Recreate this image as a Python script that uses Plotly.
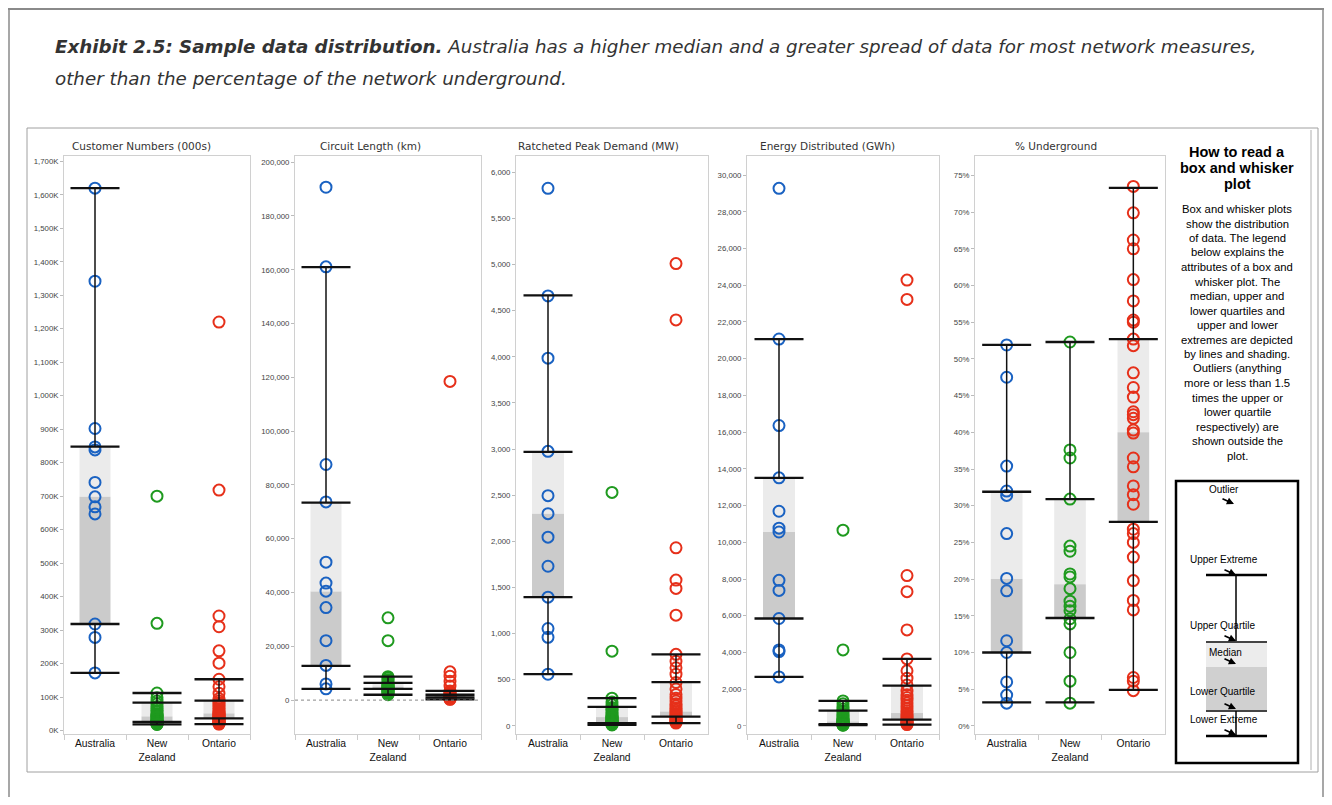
import plotly.graph_objects as go

# Screen size; the html body adds an 8px margin, so the figure is drawn 8px in from each edge
W, H = 1332, 805
OFF = 8
WF, HF = W - 2 * OFF, H - 2 * OFF

# ---------------- data ----------------
categories = ["Australia", "New Zealand", "Ontario"]
category_labels = ["Australia", "New<br>Zealand", "Ontario"]
region_colors = ["#1a62c2", "#1f9a1f", "#e6301a"]

panel_titles = ["Customer Numbers (000s)", "Circuit Length (km)",
                "Ratcheted Peak Demand (MW)", "Energy Distributed (GWh)", "% Underground"]

# Customer numbers (thousands)
cust_australia = [1620, 1342, 902, 847, 838, 741, 698, 668, 647, 318, 278, 172]
cust_new_zealand = [700, 320, 112, 98, 88, 80, 72, 66, 60, 55, 50, 46, 43, 42, 40, 36, 33,
                    31, 29, 27, 26, 25, 24, 22, 21, 20, 19, 18]
cust_ontario = [1220, 718, 342, 310, 238, 201, 153, 131, 111, 95, 88, 82, 76, 70, 65, 60, 56,
                52, 50, 48, 45, 42, 40, 38, 36, 34, 32, 30, 28, 26, 24, 22, 20, 19]
# box stats: [lower extreme, lower quartile, median, upper quartile, upper extreme]
cust_box_australia = [172, 318, 698, 848, 1620]
cust_box_new_zealand = [18, 26, 42, 83, 112]
cust_box_ontario = [19, 36, 51, 89, 153]

# Circuit length (km)
circ_australia = [190700, 161100, 87600, 73700, 51300, 43500, 40500, 34400, 22100, 12900, 6000, 4200]
circ_new_zealand = [30600, 22100, 8700, 8200, 7600, 7000, 6400, 6000, 5600, 5300, 5000, 4800,
                    4500, 4300, 4100, 3800, 3500, 3200, 2900, 2600, 2300, 2000]
circ_ontario = [118500, 10500, 8900, 7000, 5200, 3400, 3000, 2600, 2300, 2000, 1800, 1600, 1400,
                1200, 1000, 900, 800, 700, 600, 500, 400, 300]
circ_box_australia = [4200, 12700, 40400, 73400, 161000]
circ_box_new_zealand = [2000, 4200, 5000, 6400, 8700]
circ_box_ontario = [300, 1000, 1500, 2000, 3400]

# Ratcheted peak demand (MW)
peak_australia = [5826, 4660, 3985, 2975, 2495, 2300, 2045, 1730, 1395, 1055, 960, 560]
peak_new_zealand = [2530, 810, 300, 260, 230, 200, 180, 160, 140, 125, 110, 100, 92, 85, 78,
                    70, 62, 55, 48, 42, 36, 30, 25, 20, 15, 10]
peak_ontario = [5010, 4400, 1930, 1580, 1490, 1200, 775, 700, 630, 560, 470, 400, 340, 300, 270,
                240, 215, 190, 170, 150, 135, 120, 110, 100, 90, 80, 70, 60, 50, 40, 30]
peak_box_australia = [560, 1395, 2300, 2970, 4665]
peak_box_new_zealand = [10, 30, 95, 205, 300]
peak_box_ontario = [30, 100, 155, 475, 775]

# Energy distributed (GWh)
energy_australia = [29280, 21070, 16360, 13510, 11690, 10770, 10560, 7930, 7380, 5850, 4140, 4050, 2670]
energy_new_zealand = [10660, 4140, 1360, 1200, 1050, 920, 800, 690, 600, 520, 450, 390, 340, 300,
                      260, 230, 200, 175, 150, 130, 115, 100, 90, 75, 60, 50, 40]
energy_ontario = [24280, 23230, 8190, 7310, 5230, 3650, 3000, 2600, 2230, 1900, 1700, 1550, 1400,
                  1250, 1100, 950, 820, 700, 600, 520, 450, 390, 330, 280, 230, 180, 140, 100, 70]
energy_box_australia = [2670, 5850, 10560, 13510, 21070]
energy_box_new_zealand = [40, 100, 240, 830, 1360]
energy_box_ontario = [70, 340, 700, 2190, 3650]

# Percentage underground (%)
ug_australia = [51.9, 47.5, 35.4, 32.0, 31.4, 26.2, 20.1, 18.4, 11.6, 10.0, 6.0, 4.2, 3.1]
ug_new_zealand = [52.3, 37.6, 36.5, 30.9, 24.5, 23.8, 20.7, 20.3, 18.7, 17.0, 16.3, 15.7, 14.6,
                  13.9, 10.0, 6.1, 3.1]
ug_ontario = [73.5, 69.9, 66.2, 65.0, 60.8, 57.9, 55.3, 55.0, 52.7, 51.8, 48.1, 46.1, 44.8, 42.8,
              42.4, 41.9, 40.3, 39.9, 36.5, 35.3, 32.7, 31.5, 30.2, 26.8, 26.2, 25.0, 23.0, 19.8,
              17.1, 15.8, 6.6, 6.1, 4.8]
ug_box_australia = [3.2, 10.0, 20.0, 31.9, 51.9]
ug_box_new_zealand = [3.2, 14.7, 19.3, 30.9, 52.3]
ug_box_ontario = [4.9, 27.8, 40.0, 52.7, 73.3]

# tick values and labels
cust_ticks = [0, 100, 200, 300, 400, 500, 600, 700, 800, 900, 1000, 1100, 1200, 1300, 1400, 1500, 1600, 1700]
cust_tick_labels = ["0K", "100K", "200K", "300K", "400K", "500K", "600K", "700K", "800K", "900K",
                    "1,000K", "1,100K", "1,200K", "1,300K", "1,400K", "1,500K", "1,600K", "1,700K"]
circ_ticks = [0, 20000, 40000, 60000, 80000, 100000, 120000, 140000, 160000, 180000, 200000]
circ_tick_labels = ["0", "20,000", "40,000", "60,000", "80,000", "100,000", "120,000", "140,000",
                    "160,000", "180,000", "200,000"]
peak_ticks = [0, 500, 1000, 1500, 2000, 2500, 3000, 3500, 4000, 4500, 5000, 5500, 6000]
peak_tick_labels = ["0", "500", "1,000", "1,500", "2,000", "2,500", "3,000", "3,500", "4,000",
                    "4,500", "5,000", "5,500", "6,000"]
energy_ticks = [0, 2000, 4000, 6000, 8000, 10000, 12000, 14000, 16000, 18000, 20000, 22000, 24000,
                26000, 28000, 30000]
energy_tick_labels = ["0", "2,000", "4,000", "6,000", "8,000", "10,000", "12,000", "14,000",
                      "16,000", "18,000", "20,000", "22,000", "24,000", "26,000", "28,000", "30,000"]
ug_ticks = [0, 5, 10, 15, 20, 25, 30, 35, 40, 45, 50, 55, 60, 65, 70, 75]
ug_tick_labels = ["0%", "5%", "10%", "15%", "20%", "25%", "30%", "35%", "40%", "45%", "50%",
                  "55%", "60%", "65%", "70%", "75%"]

legend_body = ["Box and whisker plots", "show the distribution", "of data. The legend",
               "below explains the", "attributes of a box and", "whisker plot. The",
               "median, upper and", "lower quartiles and", "upper and lower",
               "extremes are depicted", "by lines and shading.", "Outliers (anything",
               "more or less than 1.5", "times the upper or", "lower quartile",
               "respectively) are", "shown outside the", "plot."]

panels = [
    dict(points=[cust_australia, cust_new_zealand, cust_ontario],
         boxes=[cust_box_australia, cust_box_new_zealand, cust_box_ontario],
         ticks=cust_ticks, labels=cust_tick_labels, rng=[-10.5, 1716], px=(64, 250), tx=141),
    dict(points=[circ_australia, circ_new_zealand, circ_ontario],
         boxes=[circ_box_australia, circ_box_new_zealand, circ_box_ontario],
         ticks=circ_ticks, labels=circ_tick_labels, rng=[-12600, 202300], px=(295, 481), tx=370),
    dict(points=[peak_australia, peak_new_zealand, peak_ontario],
         boxes=[peak_box_australia, peak_box_new_zealand, peak_box_ontario],
         ticks=peak_ticks, labels=peak_tick_labels, rng=[-88, 6176], px=(516, 708), tx=598),
    dict(points=[energy_australia, energy_new_zealand, energy_ontario],
         boxes=[energy_box_australia, energy_box_new_zealand, energy_box_ontario],
         ticks=energy_ticks, labels=energy_tick_labels, rng=[-441, 31040], px=(747, 939), tx=828),
    dict(points=[ug_australia, ug_new_zealand, ug_ontario],
         boxes=[ug_box_australia, ug_box_new_zealand, ug_box_ontario],
         ticks=ug_ticks, labels=ug_tick_labels, rng=[-1.1, 77.64], px=(975, 1165), tx=1056),
]

PLOT_TOP, PLOT_BOTTOM = 156, 734


def X(p):
    return (p - OFF) / WF


def Y(p):
    return 1 - (p - OFF) / HF


fig = go.Figure()
layout_axes = {}
shapes = []
annotations = []

for i, pan in enumerate(panels, start=1):
    xa = "x" if i == 1 else f"x{i}"
    ya = "y" if i == 1 else f"y{i}"
    for cat, vals, box, col in zip(categories, pan["points"], pan["boxes"], region_colors):
        lw, q1, med, q3, uw = box
        fig.add_trace(go.Scatter(
            x=[cat] * len(vals), y=vals, mode="markers", xaxis=xa, yaxis=ya,
            marker=dict(symbol="circle-open", size=11, color=col, line=dict(width=2, color=col)),
            hoverinfo="y"))
        fig.add_trace(go.Bar(
            x=[cat], y=[med - q1], base=[q1], width=0.5, xaxis=xa, yaxis=ya,
            marker=dict(color="rgba(140,140,140,0.45)", line=dict(width=0)), hoverinfo="skip"))
        fig.add_trace(go.Bar(
            x=[cat], y=[q3 - med], base=[med], width=0.5, xaxis=xa, yaxis=ya,
            marker=dict(color="rgba(210,210,210,0.45)", line=dict(width=0)), hoverinfo="skip"))
        fig.add_trace(go.Scatter(
            x=[cat, cat, None, cat, cat], y=[lw, q1, None, q3, uw], mode="lines",
            xaxis=xa, yaxis=ya, line=dict(color="#111", width=1.5), hoverinfo="skip"))
        fig.add_trace(go.Scatter(
            x=[cat] * 4, y=[lw, q1, q3, uw], mode="markers", xaxis=xa, yaxis=ya,
            marker=dict(symbol="line-ew", size=35, line=dict(width=2.3, color="#111")),
            hoverinfo="skip"))

    x0, x1 = pan["px"]
    layout_axes["xaxis" if i == 1 else f"xaxis{i}"] = dict(
        domain=[X(x0), X(x1)], anchor=ya, type="category",
        categoryorder="array", categoryarray=categories, range=[-0.5, 2.5],
        tickvals=categories, ticktext=category_labels, tickson="boundaries",
        ticks="outside", ticklen=5, tickcolor="#cccccc",
        showline=True, linecolor="#d0d0d0", linewidth=1, mirror=True, showgrid=False,
        tickfont=dict(family="Liberation Sans, Arial", size=10.3, color="#111"),
        fixedrange=True)
    layout_axes["yaxis" if i == 1 else f"yaxis{i}"] = dict(
        domain=[Y(PLOT_BOTTOM), Y(PLOT_TOP)], anchor=xa, range=pan["rng"],
        tickvals=pan["ticks"], ticktext=pan["labels"],
        ticks="outside", ticklen=3, tickcolor="#bbbbbb",
        showline=True, linecolor="#d0d0d0", linewidth=1, mirror=True,
        showgrid=False, zeroline=False,
        tickfont=dict(family="Liberation Sans, Arial", size=7.8, color="#444"),
        fixedrange=True)
    annotations.append(dict(
        x=X(pan["tx"]), y=Y(146), xref="paper", yref="paper", text=panel_titles[i - 1],
        showarrow=False, xanchor="center", yanchor="middle",
        font=dict(family="DejaVu Sans", size=10.5, color="#333")))

# dotted zero line on circuit length panel
shapes.append(dict(type="line", xref="x2 domain", yref="y2", x0=0, x1=1, y0=0, y1=0,
                   line=dict(color="#888", width=1, dash="dot")))

# page and chart frames
shapes.append(dict(type="line", xref="paper", yref="paper", x0=0, x1=1, y0=Y(9), y1=Y(9),
                   line=dict(color="#8a8a8a", width=2), layer="below"))
shapes.append(dict(type="line", xref="paper", yref="paper", x0=X(9), x1=X(9), y0=0, y1=Y(9),
                   line=dict(color="#8a8a8a", width=1.5), layer="below"))
shapes.append(dict(type="line", xref="paper", yref="paper", x0=X(1323), x1=X(1323), y0=0, y1=Y(9),
                   line=dict(color="#8a8a8a", width=1.5), layer="below"))
shapes.append(dict(type="rect", xref="paper", yref="paper", x0=X(27), x1=X(1318), y0=Y(772), y1=Y(128),
                   line=dict(color="#a0a0a0", width=1), layer="below"))
shapes.append(dict(type="line", xref="paper", yref="paper", x0=X(1311), x1=X(1311), y0=Y(770), y1=Y(130),
                   line=dict(color="#b0b0b0", width=1)))

# title
annotations.append(dict(
    x=X(53), y=Y(46), xref="paper", yref="paper", xanchor="left", yanchor="middle", showarrow=False,
    text="<i><b>Exhibit 2.5: Sample data distribution.</b> Australia has a higher median and a greater "
         "spread of data for most network measures,</i>",
    font=dict(family="DejaVu Sans", size=18.3, color="#333")))
annotations.append(dict(
    x=X(53), y=Y(78), xref="paper", yref="paper", xanchor="left", yanchor="middle", showarrow=False,
    text="<i>other than the percentage of the network underground.</i>",
    font=dict(family="DejaVu Sans", size=18.3, color="#333")))

# "How to read" panel
for k, line in enumerate(["How to read a", "box and whisker", "plot"]):
    annotations.append(dict(
        x=X(1237), y=Y(152 + 16 * k), xref="paper", yref="paper", xanchor="center", yanchor="middle",
        showarrow=False, text=f"<b>{line}</b>",
        font=dict(family="Liberation Sans, Arial", size=14.5, color="#000")))
for k, line in enumerate(legend_body):
    annotations.append(dict(
        x=X(1237), y=Y(209 + 14.5 * k), xref="paper", yref="paper", xanchor="center", yanchor="middle",
        showarrow=False, text=line, font=dict(family="Liberation Sans, Arial", size=11.3, color="#000")))

# legend diagram
LX0, LX1, LXC = 1206, 1267, 1236
shapes += [
    dict(type="rect", xref="paper", yref="paper", x0=X(1176), x1=X(1298), y0=Y(763), y1=Y(481),
         line=dict(color="#000", width=2.5)),
    dict(type="rect", xref="paper", yref="paper", x0=X(LX0), x1=X(LX1), y0=Y(667), y1=Y(642),
         fillcolor="#ececec", line=dict(width=0)),
    dict(type="rect", xref="paper", yref="paper", x0=X(LX0), x1=X(LX1), y0=Y(711), y1=Y(667),
         fillcolor="#d0d0d0", line=dict(width=0)),
    dict(type="line", xref="paper", yref="paper", x0=X(LX0), x1=X(LX1), y0=Y(575), y1=Y(575),
         line=dict(color="#000", width=2.5)),
    dict(type="line", xref="paper", yref="paper", x0=X(LXC), x1=X(LXC), y0=Y(575), y1=Y(642),
         line=dict(color="#000", width=1.5)),
    dict(type="line", xref="paper", yref="paper", x0=X(LX0), x1=X(LX1), y0=Y(642), y1=Y(642),
         line=dict(color="#444", width=2)),
    dict(type="line", xref="paper", yref="paper", x0=X(LX0), x1=X(LX1), y0=Y(711), y1=Y(711),
         line=dict(color="#444", width=2)),
    dict(type="line", xref="paper", yref="paper", x0=X(LXC), x1=X(LXC), y0=Y(711), y1=Y(736),
         line=dict(color="#000", width=1.5)),
    dict(type="line", xref="paper", yref="paper", x0=X(LX0), x1=X(LX1), y0=Y(736), y1=Y(736),
         line=dict(color="#000", width=2.5)),
]
legend_labels = [("Outlier", 1207, 489), ("Upper Extreme", 1188, 559), ("Upper Quartile", 1188, 625),
                 ("Median", 1207, 652), ("Lower Quartile", 1188, 691), ("Lower Extreme", 1188, 719)]
for txt, lx, ly in legend_labels:
    annotations.append(dict(
        x=X(lx), y=Y(ly), xref="paper", yref="paper", xanchor="left", yanchor="middle",
        showarrow=False, text=txt, font=dict(family="Liberation Sans, Arial", size=10, color="#000")))
for ax_, ay_ in [(1234, 504), (LXC, 575), (LXC, 641), (LXC, 664), (LXC, 709), (LXC, 735)]:
    annotations.append(dict(
        x=X(ax_), y=Y(ay_), xref="paper", yref="paper", text="", showarrow=True,
        ax=-13, ay=-6, arrowhead=2, arrowsize=0.8, arrowwidth=1.8, arrowcolor="#000",
        standoff=0, startstandoff=0))

fig.update_layout(
    width=WF, height=HF, margin=dict(l=0, r=0, t=0, b=0, pad=0),
    paper_bgcolor="white", plot_bgcolor="white", showlegend=False, barmode="overlay",
    shapes=shapes, annotations=annotations, **layout_axes)

fig.write_html("out.html")
